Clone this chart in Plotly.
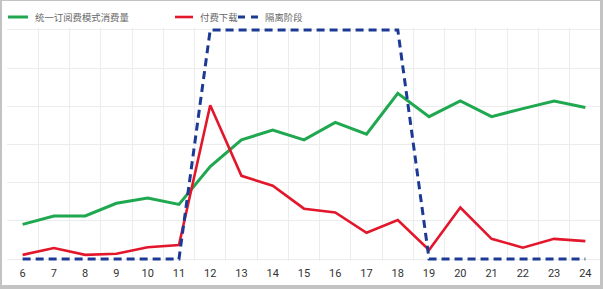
import plotly.graph_objects as go

weeks = list(range(6, 25))
week_labels = [str(w) for w in weeks]
subscription = [0.91, 1.13, 1.13, 1.46, 1.60, 1.43, 2.42, 3.12, 3.38, 3.12, 3.58, 3.27, 4.34, 3.73, 4.14, 3.73, 3.94, 4.14, 3.97]
paid_download = [0.11, 0.29, 0.11, 0.14, 0.31, 0.37, 4.03, 2.18, 1.92, 1.32, 1.22, 0.69, 1.02, 0.24, 1.35, 0.53, 0.30, 0.53, 0.47]
isolation = [0, 0, 0, 0, 0, 0, 6, 6, 6, 6, 6, 6, 6, 0, 0, 0, 0, 0, 0]
names = ["统一订阅费模式消费量", "付费下载", "隔离阶段"]

W, H = 603, 289
L, R, T, B = 7, 2, 28, 28
pw, ph = W - L - R, H - T - B

def px(x):
    return (x - L) / pw

def py(y):
    return (H - B - y) / ph

GREEN = "#1fa84f"
RED = "#e2172c"
BLUE = "#1c3a94"
FONT = "Noto Sans CJK SC, Noto Sans, sans-serif"
colors = [GREEN, RED, BLUE]
widths = [3, 2.6, 3]
dashes = ["solid", "solid", "7px,6px"]

fig = go.Figure()
fig.add_trace(go.Scatter(x=weeks, y=subscription, name=names[0], mode="lines",
                         line=dict(color=GREEN, width=3), cliponaxis=False))
fig.add_trace(go.Scatter(x=weeks, y=paid_download, name=names[1], mode="lines",
                         line=dict(color=RED, width=2.6), cliponaxis=False))
fig.add_trace(go.Scatter(x=weeks, y=isolation, name=names[2], mode="lines",
                         line=dict(color=BLUE, width=3, dash="8px,5px"), cliponaxis=False))

# manual legend (line sample + label) placed like the original
leg_line_x = [(8, 28), (175, 193), (238, 258)]
leg_text_x = [33, 198, 263]
leg_y = 17
shapes = []
annotations = []
for i in range(3):
    x0, x1 = leg_line_x[i]
    shapes.append(dict(type="line", xref="paper", yref="paper",
                       x0=px(x0), x1=px(x1), y0=py(leg_y), y1=py(leg_y),
                       line=dict(color=colors[i], width=widths[i], dash=dashes[i])))
    annotations.append(dict(xref="paper", yref="paper", x=px(leg_text_x[i]), y=py(leg_y),
                            xanchor="left", yanchor="middle", showarrow=False, text=names[i],
                            font=dict(family=FONT, size=9.4, color="#666666")))

# grey frame around the picture
frame = [(0, 2, 0, H), (600, W, 0, H), (0, W, 285, H), (0, W, 0, 1)]
for x0, x1, y0, y1 in frame:
    shapes.append(dict(type="rect", xref="paper", yref="paper", x0=px(x0), x1=px(x1),
                       y0=py(y1), y1=py(y0), fillcolor="#c3c3c3", line=dict(width=0), layer="above"))

fig.update_layout(
    width=W, height=H,
    margin=dict(l=L, r=R, t=T, b=B, pad=0),
    paper_bgcolor="white", plot_bgcolor="white",
    showlegend=False,
    xaxis=dict(
        range=[5.5, 24.5], tickmode="array", tickvals=weeks, ticktext=week_labels,
        showgrid=False, zeroline=False, showline=False, ticks="",
        ticklabelstandoff=4,
        tickfont=dict(family="Roboto, DejaVu Sans, sans-serif", size=11, color="#333333"),
        minor=dict(tickmode="array", tickvals=[w - 0.5 for w in weeks] + [24.5],
                   showgrid=True, gridcolor="#ececec", gridwidth=1, ticks=""),
        fixedrange=True,
    ),
    yaxis=dict(
        range=[-0.05, 6.05], tickmode="linear", tick0=0, dtick=1,
        showgrid=True, gridcolor="#ececec", gridwidth=1,
        showticklabels=False, zeroline=False, showline=False, ticks="",
        fixedrange=True,
    ),
    shapes=shapes,
    annotations=annotations,
)

fig.write_html("out.html")
